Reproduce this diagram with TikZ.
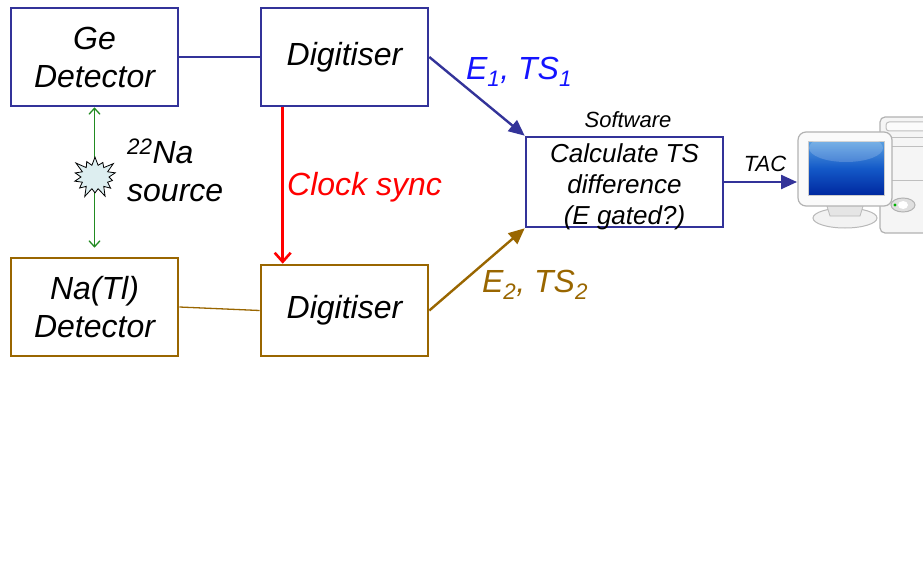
\documentclass[tikz,border=0pt]{standalone}
\usepackage{fontspec}
\setmainfont{Liberation Sans}
\usetikzlibrary{arrows.meta,shapes.symbols}
\definecolor{geblue}{RGB}{51,51,153}
\definecolor{nabrown}{RGB}{153,102,0}
\definecolor{eblue}{RGB}{20,20,255}
\definecolor{srcgreen}{RGB}{34,139,34}
\definecolor{srcfill}{RGB}{221,238,240}
\begin{document}
\begin{tikzpicture}[x=1pt,y=-1pt,
  box/.style={draw,line width=2.6pt,minimum width=167pt,minimum height=98pt,align=center,
    font=\fontsize{32}{38}\selectfont\itshape},
  lbl/.style={font=\fontsize{32}{38}\selectfont\itshape,inner sep=0pt},
  small/.style={font=\fontsize{22}{26}\selectfont\itshape,inner sep=0pt,align=center},
  data/.style={line width=2.4pt,-{Triangle[length=16pt,width=14pt]}}]
\useasboundingbox (0,0) rectangle (923,575);
% detectors and digitisers
\node[box,draw=geblue] (ge) at (94.5,57) {Ge\\Detector};
\node[box,draw=geblue] (digtop) at (344.5,57) {Digitiser};
\node[box,draw=nabrown] (natl) at (94.5,307) {Na(Tl)\\Detector};
\node[box,draw=nabrown,minimum height=91pt] (digbot) at (344.5,310.5) {Digitiser};
\node[box,draw=geblue,minimum width=197pt,minimum height=90pt] (soft) at (624.5,182) {};
\node[small,font=\fontsize{26}{31}\selectfont\itshape] (calc) at (624.5,187)
  {Calculate TS\\difference\\(E gated?)};
\node[small] (swlbl) at (628,120) {Software};
\draw[geblue,line width=1.3pt] (ge.east)--(digtop.west);
\draw[nabrown,line width=1.3pt] (natl.east)--(digbot.west);
% source between the two detectors
\draw[srcgreen,line width=1.3pt,{Straight Barb[length=6pt,width=11pt]}-{Straight Barb[length=6pt,width=11pt]},shorten >=9pt] (ge.south)--(natl.north);
\node[starburst,draw,fill=srcfill,line width=.8pt,starburst points=14,starburst point height=11pt,
  minimum width=50pt,minimum height=46pt,inner sep=0pt] (src) at (95,177) {};
\node[lbl,anchor=west,align=left] (srclbl) at (127,170)
  {\textsuperscript{22}Na\\source};
% clock and data lines
\draw[red,line width=2.6pt,-{Straight Barb[length=9pt,width=16pt]}]
  ([xshift=23pt]digtop.south west)--([xshift=23pt]digbot.north west);
\node[lbl,red,anchor=west] (clk) at (287,187) {Clock sync};
\draw[geblue,data] (digtop.east)--(soft.north west);
\draw[nabrown,data] (digbot.east)--(soft.south west);
\node[lbl,eblue] (e1) at (519,72) {E\textsubscript{1}, TS\textsubscript{1}};
\node[lbl,nabrown] (e2) at (535,285) {E\textsubscript{2}, TS\textsubscript{2}};
% computer
\coordinate (pc) at (797,182);
\draw[geblue,data] (soft.east)--(pc);
\node[small] (tac) at (765,164) {TAC};
\draw[gray!60,fill=gray!8,line width=1.2pt,rounded corners=5pt] (880,117) rectangle (940,233);
\draw[gray!50,fill=gray!3,line width=1pt,rounded corners=3pt] (886,122) rectangle (940,131);
\draw[gray!50,line width=.8pt] (886,137)--(930,137) (886,146)--(930,146) (886,180)--(930,180);
\draw[gray!60,fill=gray!25,line width=1pt] (903,205) ellipse (12 and 7);
\fill[white] (903,205) ellipse (5 and 4);
\fill[green!70!black] (895,205) circle (1.6);
\draw[gray!55,fill=gray!10,line width=1pt] (845,218) ellipse (32 and 10);
\draw[gray!55,fill=gray!20,line width=.8pt] (826,203) -- (864,203) -- (860,216) -- (830,216) -- cycle;
\draw[gray!60,fill=gray!4,line width=1.2pt,rounded corners=8pt] (798,132) rectangle (892,206);
\shade[top color={rgb,255:red,90;green,160;blue,225},bottom color={rgb,255:red,0;green,40;blue,160},
  middle color={rgb,255:red,20;green,90;blue,200},draw=gray!40] (808,141) rectangle (884,195);
\fill[white,opacity=.18] (846,148) ellipse (37 and 14);
\end{tikzpicture}
\end{document}
